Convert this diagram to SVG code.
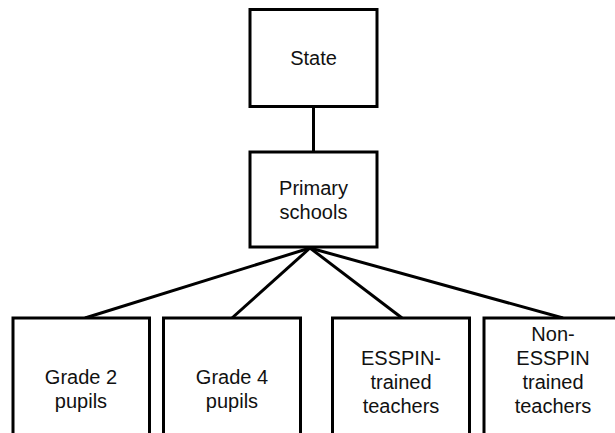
<svg xmlns="http://www.w3.org/2000/svg" width="615" height="433" viewBox="0 0 615 433">
<style>
rect{fill:#fff;stroke:#000;stroke-width:3}
line{stroke:#000;stroke-width:3}
text{font-family:"Liberation Sans",Arial,sans-serif;font-size:20px;fill:#111;text-anchor:middle}
</style>
<rect x="0" y="0" width="615" height="433" style="stroke:none"/>
<g id="connectors">
<line x1="313.5" y1="106" x2="313.5" y2="152"/>
<line x1="310" y1="248" x2="85" y2="318"/>
<line x1="310" y1="248" x2="232" y2="318"/>
<line x1="310" y1="248" x2="402" y2="318"/>
<line x1="310" y1="248" x2="563" y2="318"/>
</g>
<g id="state">
<rect x="250" y="9.5" width="127" height="97"/>
<text x="313.5" y="65">State</text>
</g>
<g id="primary">
<rect x="250" y="152" width="127" height="95"/>
<text x="313.5" y="195">Primary</text>
<text x="313.5" y="219">schools</text>
</g>
<g id="grade2">
<rect x="13" y="318" width="136.5" height="130"/>
<text x="81" y="384">Grade 2</text>
<text x="81" y="408">pupils</text>
</g>
<g id="grade4">
<rect x="163.5" y="318" width="137" height="130"/>
<text x="232" y="384">Grade 4</text>
<text x="232" y="408">pupils</text>
</g>
<g id="esspin">
<rect x="332.5" y="318" width="137" height="130"/>
<text x="401" y="365">ESSPIN-</text>
<text x="401" y="389">trained</text>
<text x="401" y="413">teachers</text>
</g>
<g id="nonesspin">
<rect x="484" y="318" width="140" height="130"/>
<text x="553" y="341">Non-</text>
<text x="553" y="365">ESSPIN</text>
<text x="553" y="389">trained</text>
<text x="553" y="413">teachers</text>
</g>
</svg>
